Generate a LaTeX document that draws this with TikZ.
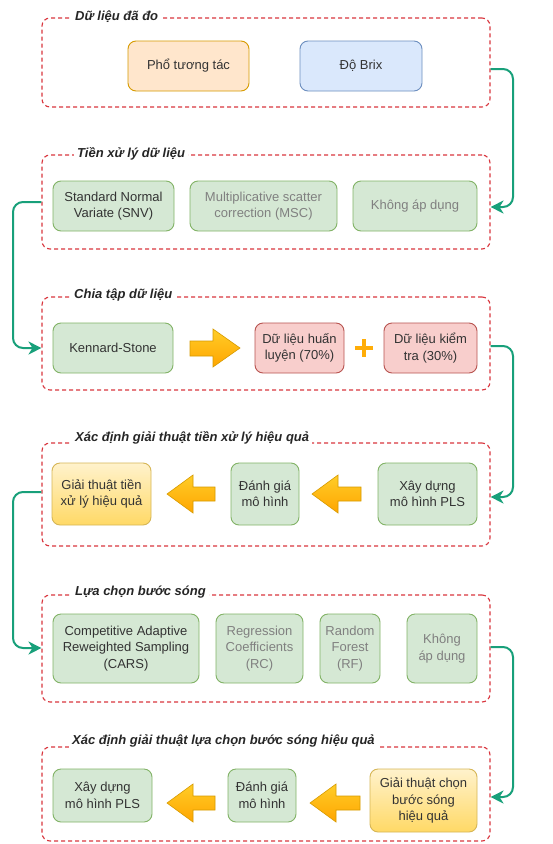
\documentclass[tikz,border=0pt]{standalone}
\usepackage{fontspec}
\setmainfont{Liberation Sans}
\usetikzlibrary{arrows.meta,calc}
\definecolor{gfill}{HTML}{D5E8D4}
\definecolor{gline}{HTML}{82B366}
\definecolor{ofill}{HTML}{FFE6CC}
\definecolor{oline}{HTML}{D79B00}
\definecolor{bfill}{HTML}{DAE8FC}
\definecolor{bline}{HTML}{6C8EBF}
\definecolor{rfill}{HTML}{F8CECC}
\definecolor{rline}{HTML}{B85450}
\definecolor{ytop}{HTML}{FFF2CC}
\definecolor{ybot}{HTML}{FFD966}
\definecolor{yline}{HTML}{D6B656}
\definecolor{atop}{HTML}{FFCD28}
\definecolor{abot}{HTML}{FFA500}
\definecolor{grpred}{HTML}{D9363E}
\definecolor{conncol}{HTML}{18A07A}
\definecolor{txt}{HTML}{333333}
\definecolor{dimtxt}{HTML}{808080}
\begin{document}
\begin{tikzpicture}[x=1pt,y=-1pt,
  every node/.style={font=\fontsize{13}{16.5}\selectfont, text=txt, align=center},
  box/.style={rounded corners=8pt, line width=0.9pt, inner sep=2pt},
  gbox/.style={box, fill=gfill, draw=gline},
  dim/.style={text=dimtxt},
  obox/.style={box, fill=ofill, draw=oline},
  bbox/.style={box, fill=bfill, draw=bline},
  rbox/.style={box, fill=rfill, draw=rline},
  ybox/.style={box, top color=ytop, bottom color=ybot, draw=yline},
  grp/.style={draw=grpred, dash pattern=on 4pt off 3pt, line width=1.1pt, rounded corners=8pt, minimum width=448pt},
  gtitle/.style={fill=white, anchor=west, inner sep=3pt, font=\fontsize{13}{16}\selectfont\bfseries\itshape, text=black!85},
  conn/.style={draw=conncol, line width=2pt, rounded corners=10pt, -{Stealth[length=13pt,width=13pt,inset=4pt]}},
  barrow/.style={top color=atop, bottom color=abot, draw=oline, line width=0.6pt},
]
\fill[white] (0,0) rectangle (552,844);
\useasboundingbox (0,0) rectangle (552,844);

% groups
\node[grp, minimum height=89pt] (g1) at (266,62.5) {};
\node[gtitle] (t1) at (72,17) {Dữ liệu đã đo};
\node[grp, minimum height=94pt] (g2) at (266,202) {};
\node[gtitle] (t2) at (74,154) {Tiền xử lý dữ liệu};
\node[grp, minimum height=93pt] (g3) at (266,343.5) {};
\node[gtitle] (t3) at (71,295) {Chia tập dữ liệu};
\node[grp, minimum height=103pt] (g4) at (266,494.5) {};
\node[gtitle] (t4) at (72,438) {Xác định giải thuật tiền xử lý hiệu quả};
\node[grp, minimum height=107pt] (g5) at (266,648.5) {};
\node[gtitle] (t5) at (72,592) {Lựa chọn bước sóng};
\node[grp, minimum height=94pt] (g6) at (266,794) {};
\node[gtitle] (t6) at (69,741) {Xác định giải thuật lựa chọn bước sóng hiệu quả};

% group 1
\node[obox, minimum width=121pt, minimum height=50pt] (pho) at (188.5,66) {Phổ tương tác};
\node[bbox, minimum width=122pt, minimum height=50pt] (brix) at (361,66) {Độ Brix};

% group 2
\node[gbox, minimum width=121pt, minimum height=50pt] (snv) at (113.5,206) {Standard Normal\\Variate (SNV)};
\node[gbox, dim, minimum width=147pt, minimum height=50pt] (msc) at (263.5,206) {Multiplicative scatter\\correction (MSC)};
\node[gbox, dim, minimum width=124pt, minimum height=50pt] (kad1) at (415,206) {Không áp dụng};

% group 3
\node[gbox, minimum width=120pt, minimum height=50pt] (ks) at (113,348) {Kennard-Stone};
\node[rbox, minimum width=89pt, minimum height=50pt] (train) at (299.5,348) {Dữ liệu huấn\\luyện (70\%)};
\node[rbox, minimum width=93pt, minimum height=50pt] (test) at (430.5,348) {Dữ liệu kiểm\\tra (30\%)};
\path[barrow] (190,341) -- (213,341) -- (213,329) -- (240,348) -- (213,367) -- (213,356) -- (190,356) -- cycle;
\draw[draw=abot!80!atop, line width=4pt] (355,348) -- (373,348) (364,339) -- (364,357);

% group 4
\node[ybox, minimum width=99pt, minimum height=62pt] (gt1) at (101.5,494) {Giải thuật tiền\\xử lý hiệu quả};
\node[gbox, minimum width=68pt, minimum height=62pt] (dg1) at (265,494) {Đánh giá\\mô hình};
\node[gbox, minimum width=99pt, minimum height=62pt] (pls1) at (427.5,494) {Xây dựng\\mô hình PLS};
\path[barrow] (215,487) -- (193,487) -- (193,475) -- (167,494) -- (193,513) -- (193,501) -- (215,501) -- cycle;
\path[barrow] (361,487) -- (338,487) -- (338,475) -- (312,494) -- (338,513) -- (338,501) -- (361,501) -- cycle;

% group 5
\node[gbox, minimum width=146pt, minimum height=69pt] (cars) at (126,648.5) {Competitive Adaptive\\Reweighted Sampling\\(CARS)};
\node[gbox, dim, minimum width=87pt, minimum height=69pt] (rc) at (259.5,648.5) {Regression\\Coefficients\\(RC)};
\node[gbox, dim, minimum width=60pt, minimum height=69pt] (rf) at (350,648.5) {Random\\Forest\\(RF)};
\node[gbox, dim, minimum width=70pt, minimum height=69pt] (kad2) at (442,648.5) {Không\\áp dụng};

% group 6
\node[gbox, minimum width=99pt, minimum height=53pt] (pls2) at (102.5,795.5) {Xây dựng\\mô hình PLS};
\node[gbox, minimum width=68pt, minimum height=53pt] (dg2) at (262,795.5) {Đánh giá\\mô hình};
\node[ybox, minimum width=107pt, minimum height=63pt] (gt2) at (423.5,800.5) {Giải thuật chọn\\bước sóng\\hiệu quả};
\path[barrow] (215,796) -- (193,796) -- (193,784) -- (167,803) -- (193,822) -- (193,810) -- (215,810) -- cycle;
\path[barrow] (360,796) -- (336,796) -- (336,784) -- (310,803) -- (336,822) -- (336,810) -- (360,810) -- cycle;

% connectors
\draw[conn] (g1.east |- 0,69) -- (513,69) -- (513,207) -- (g2.east |- 0,207);
\draw[conn] (g2.west |- 0,202) -- (13,202) -- (13,348) -- (g3.west |- 0,348);
\draw[conn] (g3.east |- 0,346) -- (513,346) -- (513,497) -- (g4.east |- 0,497);
\draw[conn] (g4.west |- 0,492) -- (13,492) -- (13,648) -- (g5.west |- 0,648);
\draw[conn] (g5.east |- 0,647) -- (513,647) -- (513,797) -- (g6.east |- 0,797);
\end{tikzpicture}
\end{document}
